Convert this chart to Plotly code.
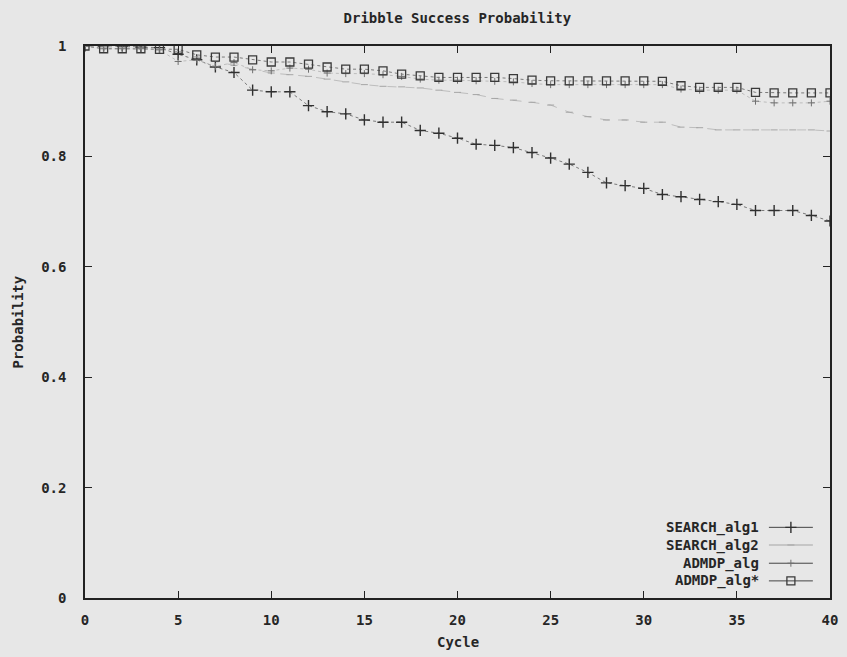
import plotly.graph_objects as go

# ---- data ----
cycles = list(range(41))

search_alg1 = [1.0, 1.0, 1.0, 0.998, 0.997, 0.985, 0.975, 0.962, 0.952, 0.92,
               0.917, 0.917, 0.892, 0.881, 0.877, 0.866, 0.862, 0.862, 0.847, 0.842,
               0.833, 0.822, 0.82, 0.816, 0.807, 0.797, 0.786, 0.771, 0.752, 0.747,
               0.742, 0.731, 0.727, 0.722, 0.718, 0.713, 0.702, 0.702, 0.702, 0.693,
               0.683]

search_alg2 = [1.0, 0.998, 0.997, 0.996, 0.994, 0.99, 0.98, 0.972, 0.965, 0.957,
               0.951, 0.948, 0.945, 0.94, 0.935, 0.93, 0.927, 0.926, 0.924, 0.92,
               0.916, 0.912, 0.905, 0.902, 0.898, 0.893, 0.88, 0.872, 0.866, 0.866,
               0.862, 0.862, 0.853, 0.852, 0.848, 0.848, 0.848, 0.848, 0.848, 0.848,
               0.846]

admdp_alg = [1.0, 0.995, 0.995, 0.995, 0.993, 0.972, 0.975, 0.963, 0.97, 0.957,
             0.955, 0.96, 0.958, 0.951, 0.95, 0.95, 0.948, 0.945, 0.94, 0.938,
             0.938, 0.937, 0.936, 0.935, 0.932, 0.93, 0.93, 0.93, 0.93, 0.93,
             0.93, 0.93, 0.922, 0.92, 0.92, 0.92, 0.9, 0.897, 0.897, 0.897,
             0.9]

admdp_alg_star = [1.0, 0.995, 0.995, 0.995, 0.994, 0.994, 0.984, 0.98, 0.98, 0.975,
                  0.971, 0.971, 0.967, 0.962, 0.958, 0.958, 0.955, 0.949, 0.946, 0.943,
                  0.943, 0.943, 0.943, 0.941, 0.938, 0.937, 0.937, 0.937, 0.937, 0.937,
                  0.937, 0.936, 0.928, 0.925, 0.925, 0.925, 0.916, 0.915, 0.915, 0.915,
                  0.915]

series_names = ["SEARCH_alg1", "SEARCH_alg2", "ADMDP_alg", "ADMDP_alg*"]
x_ticks = [0, 5, 10, 15, 20, 25, 30, 35, 40]
y_ticks = [0, 0.2, 0.4, 0.6, 0.8, 1]
y_tick_labels = ["0", "0.2", "0.4", "0.6", "0.8", "1"]

# ---- styles ----
FONT = "DejaVu Sans Mono"
TXT = "#262626"
BG = "#e7e7e7"

def b(s):
    return "<b>" + s + "</b>"

styles = [
    dict(line=dict(color="#7a7a7a", width=1, dash="dot"),
         marker=dict(symbol="cross-thin", size=8, line=dict(color="#303030", width=1.4))),
    dict(line=dict(color="#bdbdbd", width=1, dash="dash"),
         marker=dict(symbol="line-ew", size=5, line=dict(color="#a5a5a5", width=1))),
    dict(line=dict(color="#bdbdbd", width=1, dash="dot"),
         marker=dict(symbol="cross-thin", size=5, line=dict(color="#707070", width=1))),
    dict(line=dict(color="#7a7a7a", width=1, dash="dot"),
         marker=dict(symbol="square-open", size=8, color="#3a3a3a", line=dict(width=1.3))),
]

fig = go.Figure()
all_series = [search_alg1, search_alg2, admdp_alg, admdp_alg_star]
for name, vals, st in zip(series_names, all_series, styles):
    fig.add_trace(go.Scatter(x=cycles, y=vals, mode="lines+markers", name=name,
                             line=st["line"], marker=st["marker"], showlegend=False,
                             xaxis="x", yaxis="y"))

# manual gnuplot-style key (text right, sample on the right), on an overlay axis
key_y = [0.128, 0.096, 0.063, 0.031]
for name, ky, st in zip(series_names, key_y, styles):
    sample_line = dict(color="#444444", width=1) if name != "SEARCH_alg2" else dict(color="#a5a5a5", width=1)
    fig.add_trace(go.Scatter(x=[0.918, 0.977], y=[ky, ky], mode="lines",
                             line=sample_line, showlegend=False,
                             xaxis="x2", yaxis="y2", hoverinfo="skip"))
    fig.add_trace(go.Scatter(x=[0.9475], y=[ky], mode="markers",
                             marker=st["marker"], showlegend=False,
                             xaxis="x2", yaxis="y2", hoverinfo="skip"))
    fig.add_annotation(x=0.908, y=ky, xref="x2", yref="y2", text=b(name),
                       showarrow=False, xanchor="right", yanchor="middle",
                       font=dict(family=FONT, size=14, color=TXT))

# axis titles as annotations for exact placement
fig.add_annotation(x=0.5, y=-0.0797, xref="paper", yref="paper", text=b("Cycle"),
                   showarrow=False, xanchor="center", yanchor="middle",
                   font=dict(family=FONT, size=14, color=TXT))
fig.add_annotation(x=-0.0906, y=0.5, xref="paper", yref="paper", text=b("Probability"),
                   showarrow=False, xanchor="center", yanchor="middle", textangle=-90,
                   font=dict(family=FONT, size=14, color=TXT))

fig.update_layout(
    width=847, height=657,
    margin=dict(l=85, r=17, t=46, b=59, autoexpand=False),
    paper_bgcolor=BG, plot_bgcolor=BG,
    font=dict(family=FONT, size=14, color=TXT),
    title=dict(text=b("Dribble Success Probability"), x=0.54, xanchor="center",
               y=0.972, yanchor="middle", font=dict(family=FONT, size=14, color=TXT)),
    xaxis=dict(range=[0, 40], tickvals=x_ticks, ticktext=[b(str(t)) for t in x_ticks],
               ticks="inside", ticklen=7, tickcolor="#222", tickwidth=1,
               showline=True, linecolor="#222", linewidth=1.5, mirror="allticks",
               showgrid=False, zeroline=False, ticklabelstandoff=8, automargin=False),
    yaxis=dict(range=[0, 1], tickvals=y_ticks, ticktext=[b(t) for t in y_tick_labels],
               ticks="inside", ticklen=7, tickcolor="#222", tickwidth=1,
               showline=True, linecolor="#222", linewidth=1.5, mirror="allticks",
               showgrid=False, zeroline=False, ticklabelstandoff=14, automargin=False),
    xaxis2=dict(range=[0, 1], overlaying="x", visible=False, fixedrange=True),
    yaxis2=dict(range=[0, 1], overlaying="y", visible=False, fixedrange=True),
)

fig.write_html("out.html")
